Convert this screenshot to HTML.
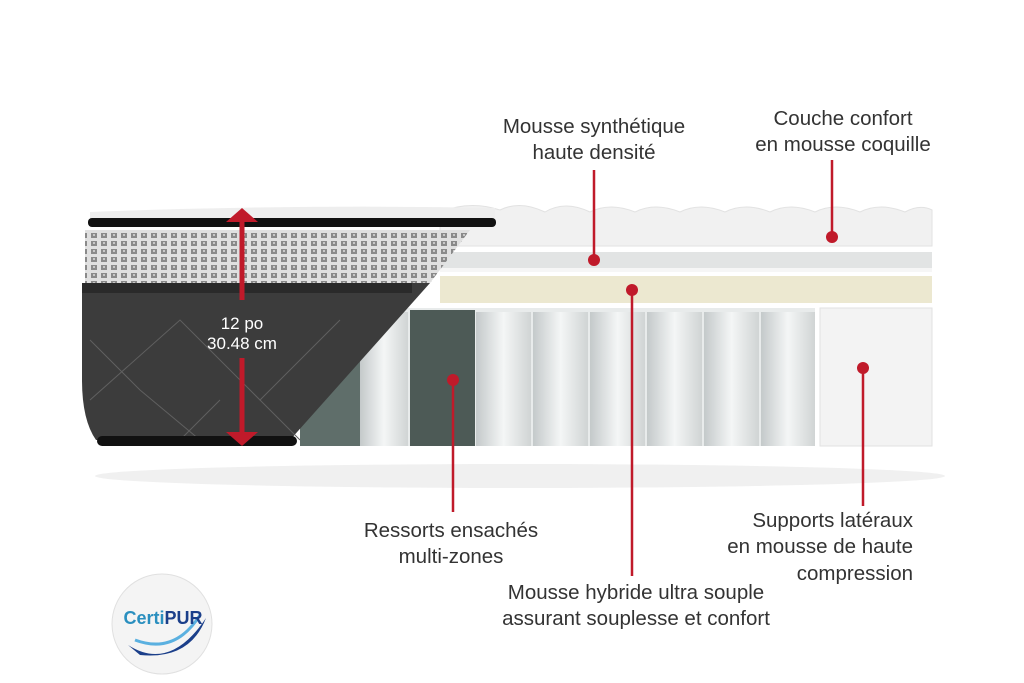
<!DOCTYPE html>
<html><head><meta charset="utf-8"><style>
body{margin:0;background:#fff;width:1024px;height:683px;overflow:hidden}
svg{display:block}
text{font-family:"Liberation Sans",sans-serif;font-size:20.5px;fill:#333}
</style></head><body>
<svg width="1024" height="683" viewBox="0 0 1024 683">
<defs>
<pattern id="q" width="10" height="8" patternUnits="userSpaceOnUse">
<rect width="10" height="8" fill="#e0e0e0"/><rect x="1" y="1" width="6" height="5" fill="#8a8a8a"/><rect x="3" y="2" width="2" height="2" fill="#c8c8c8"/>
</pattern>
<linearGradient id="sp" x1="0" y1="0" x2="1" y2="0"><stop offset="0" stop-color="#c4c9ca"/><stop offset=".5" stop-color="#f4f6f6"/><stop offset="1" stop-color="#d0d4d4"/></linearGradient>
</defs>
<ellipse cx="520" cy="476" rx="425" ry="12" fill="#f0f0f0"/>
<path d="M440 246 L440 212 Q470 200 500 210 Q520 200 545 212 Q565 200 590 212 Q610 202 635 212 Q655 202 680 212 Q700 202 725 212 Q745 202 770 212 Q790 202 815 212 Q835 202 860 212 Q880 202 905 212 Q920 204 932 210 L932 246 Z" fill="#f1f1f1" stroke="#e2e2e2"/>
<rect x="440" y="252" width="492" height="16" fill="#e2e4e4"/>
<rect x="440" y="268" width="492" height="4" fill="#f6f6f6"/>
<rect x="440" y="276" width="492" height="27" fill="#ece8d0"/>
<rect x="300" y="308" width="515" height="138" fill="#e8ebeb"/>
<g>
<rect x="300" y="340" width="60" height="106" fill="#5f6e6a"/>
<rect x="360" y="312" width="48" height="134" fill="url(#sp)"/>
<rect x="410" y="310" width="65" height="136" fill="#4d5a56"/>
<rect x="476" y="312" width="55" height="134" fill="url(#sp)"/>
<rect x="533" y="312" width="55" height="134" fill="url(#sp)"/>
<rect x="590" y="312" width="55" height="134" fill="url(#sp)"/>
<rect x="647" y="312" width="55" height="134" fill="url(#sp)"/>
<rect x="704" y="312" width="55" height="134" fill="url(#sp)"/>
<rect x="761" y="312" width="54" height="134" fill="url(#sp)"/>
</g>
<rect x="820" y="308" width="112" height="138" fill="#f3f3f3" stroke="#e2e2e2"/>
<path d="M90 212 Q300 204 495 208 L495 222 L90 222 Z" fill="#eeeeee"/>
<path d="M85 230 L470 230 L430 283 L85 283 Z" fill="url(#q)"/>
<path d="M82 283 L430 283 L290 440 L96 440 Q82 420 82 380 Z" fill="#3c3c3c"/>
<rect x="82" y="283" width="330" height="10" fill="#2a2a2a"/>
<g stroke="#606060" stroke-width="1" fill="none">
<path d="M90 400 L180 320 L260 400 L340 320"/><path d="M90 340 L140 390 L200 440"/><path d="M260 400 L300 440"/><path d="M180 440 L220 400"/></g>
<rect x="88" y="218" width="408" height="9" rx="4" fill="#111"/>
<rect x="97" y="436" width="200" height="10" rx="5" fill="#111"/>
<g fill="#c01a2a" stroke="#c01a2a">
<polygon points="242,208 258,222 226,222" stroke="none"/>
<line x1="242" y1="220" x2="242" y2="300" stroke-width="5"/>
<line x1="242" y1="358" x2="242" y2="432" stroke-width="5"/>
<polygon points="242,446 258,432 226,432" stroke="none"/>
</g>
<text x="242" y="329" text-anchor="middle" style="fill:#fff;font-size:17px">12 po</text>
<text x="242" y="349" text-anchor="middle" style="fill:#fff;font-size:17px">30.48 cm</text>
<g stroke="#c01a2a" stroke-width="2.5" fill="#c01a2a">
<line x1="594" y1="170" x2="594" y2="260"/><circle cx="594" cy="260" r="6" stroke="none"/>
<line x1="832" y1="160" x2="832" y2="237"/><circle cx="832" cy="237" r="6" stroke="none"/>
<line x1="632" y1="290" x2="632" y2="576"/><circle cx="632" cy="290" r="6" stroke="none"/>
<line x1="453" y1="380" x2="453" y2="512"/><circle cx="453" cy="380" r="6" stroke="none"/>
<line x1="863" y1="368" x2="863" y2="506"/><circle cx="863" cy="368" r="6" stroke="none"/>
</g>
<text x="594" y="133" text-anchor="middle">Mousse synthétique</text>
<text x="594" y="159" text-anchor="middle">haute densité</text>
<text x="843" y="125" text-anchor="middle">Couche confort</text>
<text x="843" y="151" text-anchor="middle">en mousse coquille</text>
<text x="451" y="537" text-anchor="middle">Ressorts ensachés</text>
<text x="451" y="563" text-anchor="middle">multi-zones</text>
<text x="913" y="527" text-anchor="end">Supports latéraux</text>
<text x="913" y="553" text-anchor="end">en mousse de haute</text>
<text x="913" y="580" text-anchor="end">compression</text>
<text x="636" y="599" text-anchor="middle">Mousse hybride ultra souple</text>
<text x="636" y="625" text-anchor="middle">assurant souplesse et confort</text>
<circle cx="162" cy="624" r="50" fill="#f4f4f4" stroke="#e0e0e0"/>
<path d="M128 645 Q170 672 206 618 Q190 660 140 655 Z" fill="#1b3f8a"/>
<path d="M135 640 Q175 655 200 615" stroke="#5ab0e0" stroke-width="3" fill="none"/>
<text x="163" y="624" text-anchor="middle" style="font-size:18px;font-weight:bold;fill:#2a8fbf">Certi<tspan style="fill:#1b3f8a">PUR</tspan></text>
</svg>
</body></html>
